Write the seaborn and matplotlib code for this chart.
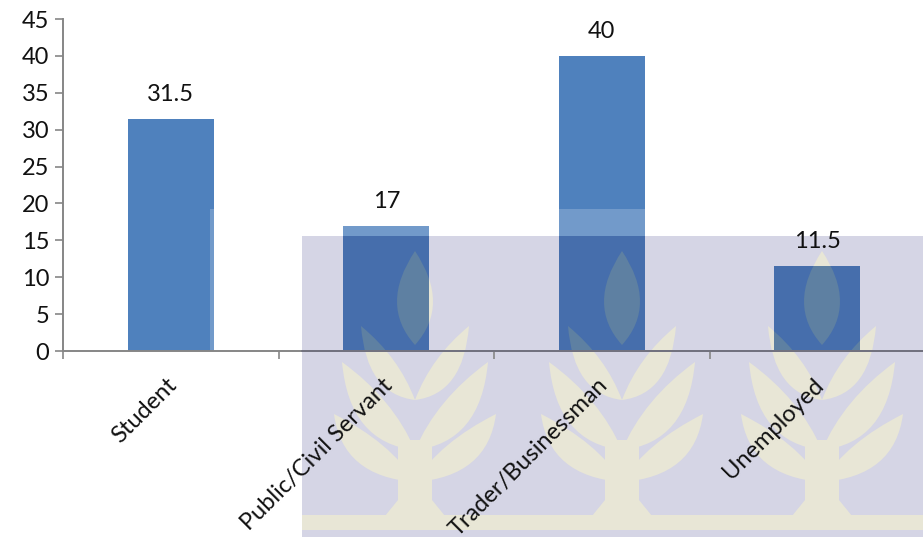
import matplotlib
matplotlib.use("Agg")
import matplotlib.pyplot as plt
import pandas as pd
import seaborn as sns
from matplotlib.patches import PathPatch, Polygon, Rectangle
from matplotlib.path import Path
from matplotlib.transforms import ScaledTranslation

occupations = ["Student", "Public/Civil Servant", "Trader/Businessman", "Unemployed"]
percentages = [31.5, 17, 40, 11.5]
value_labels = ["31.5", "17", "40", "11.5"]
y_ticks = [0, 5, 10, 15, 20, 25, 30, 35, 40, 45]

BAR_BLUE = "#4F81BD"
AXIS_GREY = "#868686"
WM_BACK = "#D5D5E5"
WM_TREE = "#E8E6D6"
WM_BAR = "#466EAC"
WM_TREE_ON_BAR = "#5E80A2"

sns.set_theme(style="white")
plt.rcParams["font.family"] = ["Lato", "DejaVu Sans"]


def leaf(cx, tip_dx, tip_y, root_y, side):
    # one curved branch of the watermark tree, in pixel coordinates
    tip = (cx + side * tip_dx, tip_y)
    root = (cx, root_y)
    outer = (cx + side * tip_dx * 0.9, root_y - (root_y - tip_y) * 0.08)
    inner = (cx + side * tip_dx * 0.3, tip_y + (root_y - tip_y) * 0.42)
    verts = [tip, outer, root, inner, tip]
    codes = [Path.MOVETO, Path.CURVE3, Path.CURVE3, Path.CURVE3, Path.CURVE3]
    return Path(verts, codes)


def tree_paths(cx):
    paths = []
    # centre leaf
    paths.append(Path(
        [(cx, 251), (cx + 36, 305), (cx, 345), (cx - 36, 305), (cx, 251)],
        [Path.MOVETO, Path.CURVE3, Path.CURVE3, Path.CURVE3, Path.CURVE3],
    ))
    for tip_dx, tip_y, root_y in [(54, 326, 400), (73, 362, 450), (81, 414, 482)]:
        paths.append(leaf(cx, tip_dx, tip_y, root_y, -1))
        paths.append(leaf(cx, tip_dx, tip_y, root_y, 1))
    # trunk
    paths.append(Path(
        [(cx - 17, 440), (cx + 17, 440), (cx + 17, 500), (cx + 30, 516),
         (cx - 30, 516), (cx - 17, 500), (cx - 17, 440)],
    ))
    return paths


fig = plt.figure(figsize=(9.23, 5.37), dpi=100)

# watermark sits behind the chart, in pixel coordinates
ax_bg = fig.add_axes([0, 0, 1, 1], zorder=0)
ax_bg.set_xlim(0, 923)
ax_bg.set_ylim(537, 0)
ax_bg.axis("off")
ax_bg.add_patch(Rectangle((302, 236), 621, 301, color=WM_BACK, lw=0))
ax_bg.add_patch(Rectangle((302, 515), 621, 15, color=WM_TREE, lw=0))
for cx in [415, 622, 822]:
    for p in tree_paths(cx):
        ax_bg.add_patch(PathPatch(p, color=WM_TREE, lw=0))

ax = fig.add_axes([63 / 923, (537 - 351) / 537, 860 / 923, 332 / 537], zorder=1)
ax.patch.set_alpha(0)

df = pd.DataFrame({"occupation": occupations, "percent": percentages})
sns.barplot(data=df, x="occupation", y="percent", color=BAR_BLUE, saturation=1,
            width=0.4, ax=ax, zorder=1, linewidth=0)

ax.set_xlim(-0.5, 3.49)
ax.set_ylim(0, 45)
ax.set_yticks(y_ticks)
ax.set_xlabel("")
ax.set_ylabel("")
ax.tick_params(axis="y", left=True, length=6, width=1.2, color=AXIS_GREY,
               labelsize=17, labelcolor="#111111", pad=4)

# ticks fall between the categories, labels stay on the bar centres
ax.set_xticks(range(len(occupations)))
ax.set_xticklabels(occupations, rotation=45, ha="right", rotation_mode="anchor",
                   fontsize=17, color="#111111")
ax.tick_params(axis="x", which="major", bottom=False, pad=11)
ax.set_xticks([-0.5, 0.5, 1.5, 2.5], minor=True)
ax.tick_params(axis="x", which="minor", bottom=True, length=6, width=1.2, color=AXIS_GREY)

shift = ScaledTranslation(-5 / 100, 0, fig.dpi_scale_trans)
for label in ax.get_xticklabels():
    label.set_transform(label.get_transform() + shift)

sns.despine(ax=ax, top=True, right=True)
for side in ["left", "bottom"]:
    ax.spines[side].set_color(AXIS_GREY)
    ax.spines[side].set_linewidth(1.4)

for container in ax.containers:
    ax.bar_label(container, labels=value_labels, padding=10, fontsize=17, color="#111111")

# scanned page overlays, only visible on top of the bars
px = ax_bg.transData
for bar in ax.patches:
    band = Polygon([(210, 209), (923, 209), (923, 236), (302, 236), (302, 351), (210, 351)],
                   closed=True, transform=px, facecolor="white", alpha=0.2, lw=0, zorder=1.5)
    ax.add_patch(band)
    band.set_clip_path(bar)
    dark = Rectangle((302, 236), 621, 301, transform=px, facecolor=WM_BAR, lw=0, zorder=1.6)
    ax.add_patch(dark)
    dark.set_clip_path(bar)
    for cx in [415, 622, 822]:
        for p in tree_paths(cx):
            piece = PathPatch(p, transform=px, facecolor=WM_TREE_ON_BAR, lw=0, zorder=1.7)
            ax.add_patch(piece)
            piece.set_clip_path(bar)

# axis line and ticks read darker under the watermark
ax.plot([302, 923], [351, 351], transform=px, color="#72727F", lw=1.4, zorder=3, clip_on=False)
for x_tick in ax.xaxis.get_minor_ticks()[2:]:
    x_tick.tick1line.set_color("#72727F")

fig.savefig("out.png", dpi=100)
